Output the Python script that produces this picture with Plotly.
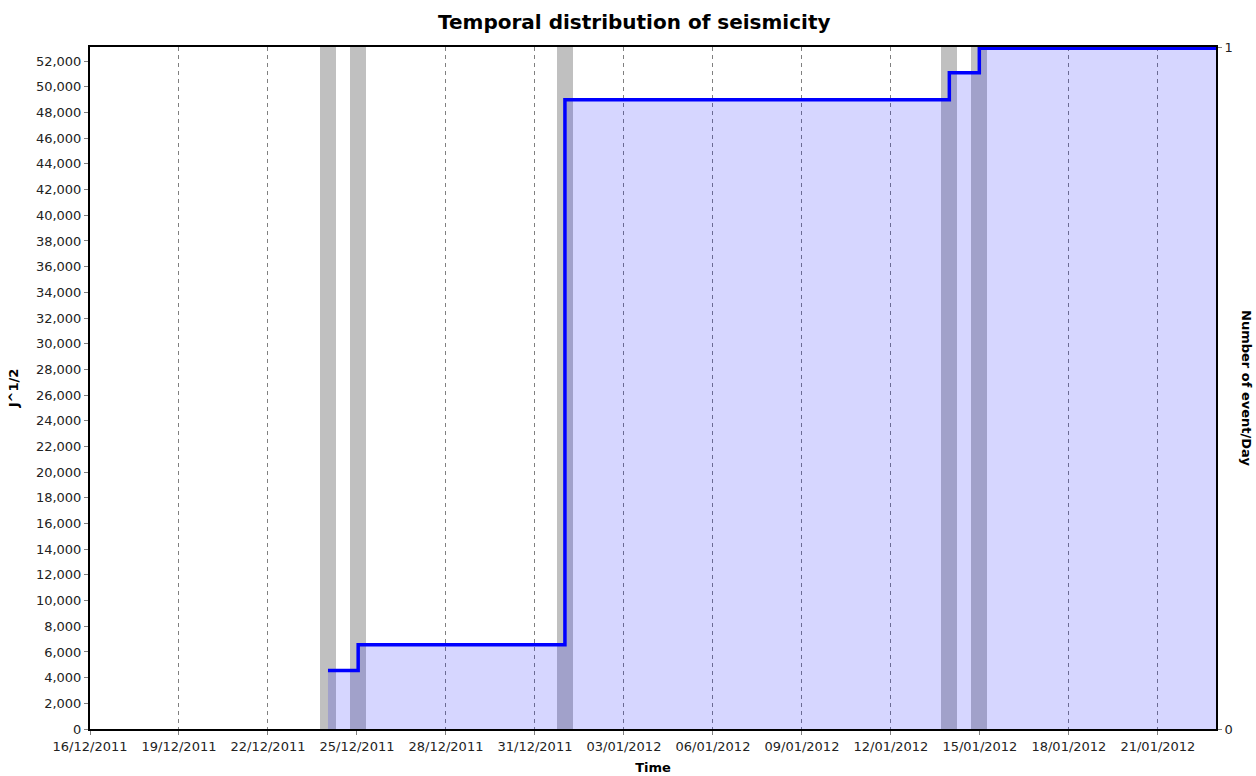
import plotly.graph_objects as go

# ---- data ----
event_times = ["2011-12-24 00:32", "2011-12-25 00:58", "2012-01-01 00:15",
               "2012-01-13 23:15", "2012-01-14 23:30"]
cum_sqrt_energy = [4550, 6550, 49000, 51100, 53000]   # J^1/2 (cumulative)
events_per_day = [1, 1, 1, 1, 1]
x_start = "2011-12-16 00:00"
series_end = "2012-01-22 23:00"
chart_title = "Temporal distribution of seismicity"
y_left_title = "J^1/2"
y_right_title = "Number of event/Day"
x_title = "Time"

DAY_MS = 86400000
FONT = "DejaVu Sans"

line_x = event_times + [series_end]
line_y = cum_sqrt_energy + [cum_sqrt_energy[-1]]

fig = go.Figure()

# histogram bars (right axis) -- base subplot, drawn underneath
fig.add_trace(go.Bar(
    x=event_times, y=events_per_day, yaxis="y2",
    width=[0.53 * DAY_MS] * len(event_times),
    marker=dict(color="#c0c0c0", line=dict(width=0)),
    showlegend=False, hoverinfo="x+y",
))

# cumulative step line with translucent fill (left axis, overlay on top)
fig.add_trace(go.Scatter(
    x=line_x, y=line_y, yaxis="y",
    mode="lines", line=dict(color="#0000ff", width=3.5, shape="hv"),
    fill="tozeroy", fillcolor="rgba(0,0,255,0.16)",
    showlegend=False,
))

axis_font = dict(family=FONT, size=13, color="#222222")
title_font = dict(family=FONT, size=13, color="#000000", weight="bold")

fig.update_layout(
    width=1256, height=776,
    margin=dict(l=90, r=40, t=47, b=47, autoexpand=False),
    paper_bgcolor="white", plot_bgcolor="white",
    title=dict(text=chart_title, x=0.505, xanchor="center", y=0.972, yanchor="middle",
               font=dict(family=FONT, size=20, color="#000000", weight="bold")),
    xaxis=dict(
        type="date", range=[x_start, series_end],
        tick0=x_start, dtick=3 * DAY_MS, tickformat="%d/%m/%Y",
        showgrid=True, gridcolor="#808080", gridwidth=1, griddash="4px,4px",
        showline=True, linecolor="#000000", linewidth=2, mirror=True,
        ticks="outside", ticklen=4, tickcolor="#808080",
        tickfont=axis_font, zeroline=False,
        title=dict(text=x_title, font=title_font, standoff=10),
    ),
    yaxis=dict(
        overlaying="y2", side="left",
        range=[0, 53100], dtick=2000, tick0=0, tickformat=",d",
        showgrid=False, zeroline=False,
        showline=True, linecolor="#000000", linewidth=2,
        ticks="outside", ticklen=4, tickcolor="#808080",
        tickfont=axis_font,
        title=dict(text=y_left_title, font=title_font, standoff=14),
    ),
    yaxis2=dict(
        side="right", range=[0, 1], tickvals=[0, 1], ticktext=["0", "1"],
        showgrid=False, zeroline=False,
        showline=True, linecolor="#000000", linewidth=2,
        ticks="outside", ticklen=4, tickcolor="#808080",
        tickfont=axis_font,
    ),
    bargap=0,
    annotations=[dict(
        text=y_right_title, textangle=90, xref="paper", yref="paper",
        x=1.0275, y=0.5, xanchor="center", yanchor="middle", showarrow=False,
        font=title_font,
    )],
)

fig.write_html("out.html", config={"displayModeBar": False},
               post_script="document.body.style.margin='0';")
